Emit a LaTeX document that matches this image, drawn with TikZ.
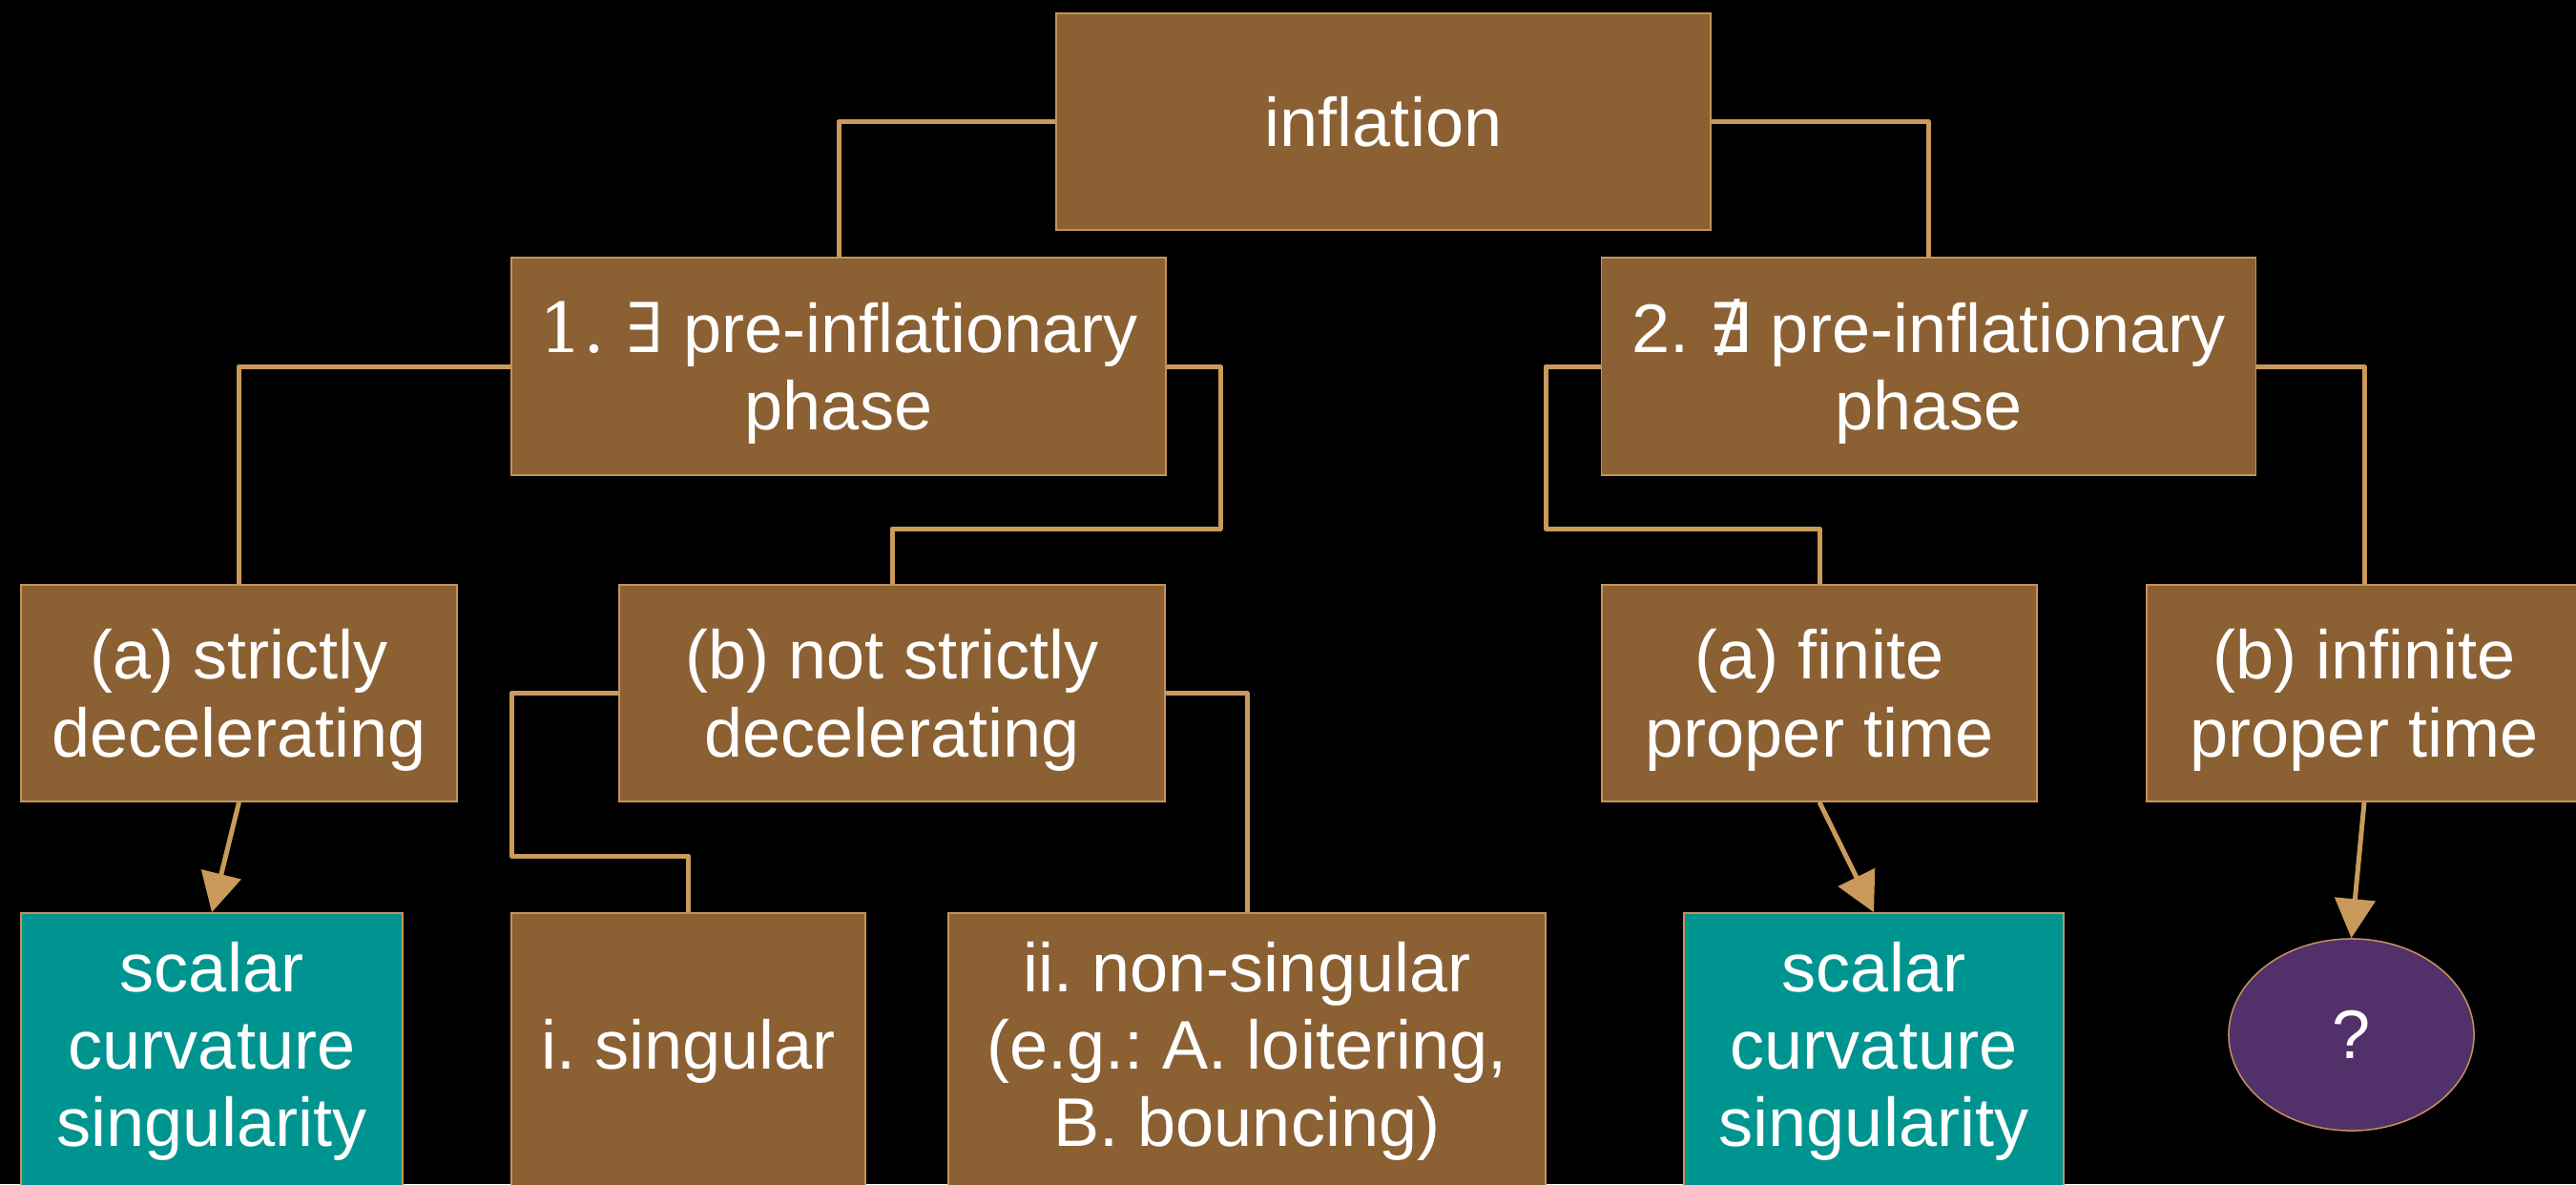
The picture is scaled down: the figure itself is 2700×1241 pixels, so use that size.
\documentclass[tikz,border=0pt]{standalone}
\usepackage{fontspec}
\setmainfont{Liberation Sans}
\newfontfamily\symserif{DejaVu Serif}
\newfontfamily\symsans{DejaVu Sans}
\usetikzlibrary{arrows.meta,shapes.geometric}
\frenchspacing
\definecolor{boxbrown}{HTML}{8B6033}
\definecolor{edgetan}{HTML}{C99A5A}
\definecolor{bordertan}{HTML}{C4935A}
\definecolor{tealbox}{HTML}{009490}
\definecolor{purplebox}{HTML}{52316A}
\newcommand\tstrut{\rule{0pt}{0.67cm}}
\tikzset{
  base/.style={draw=bordertan, line width=0.015cm, text=white, align=center, inner sep=0pt,
    font=\fontsize{20.5}{23.1}\selectfont\frenchspacing},
  brownbox/.style={base, rectangle, fill=boxbrown},
  tealnode/.style={base, rectangle, fill=tealbox},
  qnode/.style={base, ellipse, fill=purplebox},
  link/.style={draw=edgetan, line width=0.05cm, line join=round},
  arrowlink/.style={link, -{Triangle[length=0.41cm, width=0.42cm]}},
}
\begin{document}
\begin{tikzpicture}[x=0.01cm, y=-0.01cm]
\fill[black] (0,0) rectangle (2700,1241);
\useasboundingbox (0,0) rectangle (2700,1241);

\node[brownbox, minimum width=6.86cm, minimum height=2.27cm] (infl) at (1450,127.5) {inflation};
\node[brownbox, minimum width=6.86cm, minimum height=2.28cm] (n1) at (879,384) {\tstrut{\symserif 1. ∃} pre-inflationary\\phase};
\node[brownbox, minimum width=6.86cm, minimum height=2.28cm] (n2) at (2021.5,384) {\tstrut 2. {\symsans ∄} pre-inflationary\\phase};

\node[brownbox, minimum width=4.57cm, minimum height=2.27cm] (a1) at (250.5,726.5) {\tstrut(a) strictly\\decelerating};
\node[brownbox, minimum width=5.72cm, minimum height=2.27cm] (b1) at (935,726.5) {\tstrut(b) not strictly\\decelerating};
\node[brownbox, minimum width=4.56cm, minimum height=2.27cm] (a2) at (1907,726.5) {\tstrut(a) finite\\proper time};
\node[brownbox, minimum width=4.56cm, minimum height=2.27cm] (b2) at (2478,726.5) {\tstrut(b) infinite\\proper time};

\node[tealnode, minimum width=4.00cm, minimum height=2.90cm] (s1) at (222,1102) {scalar\\curvature\\singularity};
\node[brownbox, minimum width=3.71cm, minimum height=2.90cm] (sing) at (721.5,1102) {i. singular};
\node[brownbox, minimum width=6.26cm, minimum height=2.90cm] (ns) at (1307,1102) {ii. non-singular\\(e.g.: A. loitering,\\B. bouncing)};
\node[tealnode, minimum width=3.98cm, minimum height=2.90cm] (s2) at (1964,1102) {scalar\\curvature\\singularity};
\node[qnode, minimum width=2.57cm, minimum height=2.01cm] (q) at (2464.5,1084.5) {?};

\draw[link] (infl.west) -| (n1.north);
\draw[link] (infl.east) -| (n2.north);
\draw[link] (n1.west) -| (a1.north);
\coordinate (k1) at (1279,554);
\draw[link] (n1.east) -| (k1) -| (b1.north);
\coordinate (k2) at (1620,554);
\draw[link] (n2.west) -| (k2) -| (a2.north);
\draw[link] (n2.east) -| (b2.north);
\coordinate (k3) at (536,897);
\draw[link] (b1.west) -| (k3) -| (sing.north);
\draw[link] (b1.east) -| (ns.north);

\draw[arrowlink] (a1.south) -- (s1.north);
\draw[arrowlink] (a2.south) -- (s2.north);
\draw[arrowlink] (b2.south) -- (q.north);
\end{tikzpicture}
\end{document}
